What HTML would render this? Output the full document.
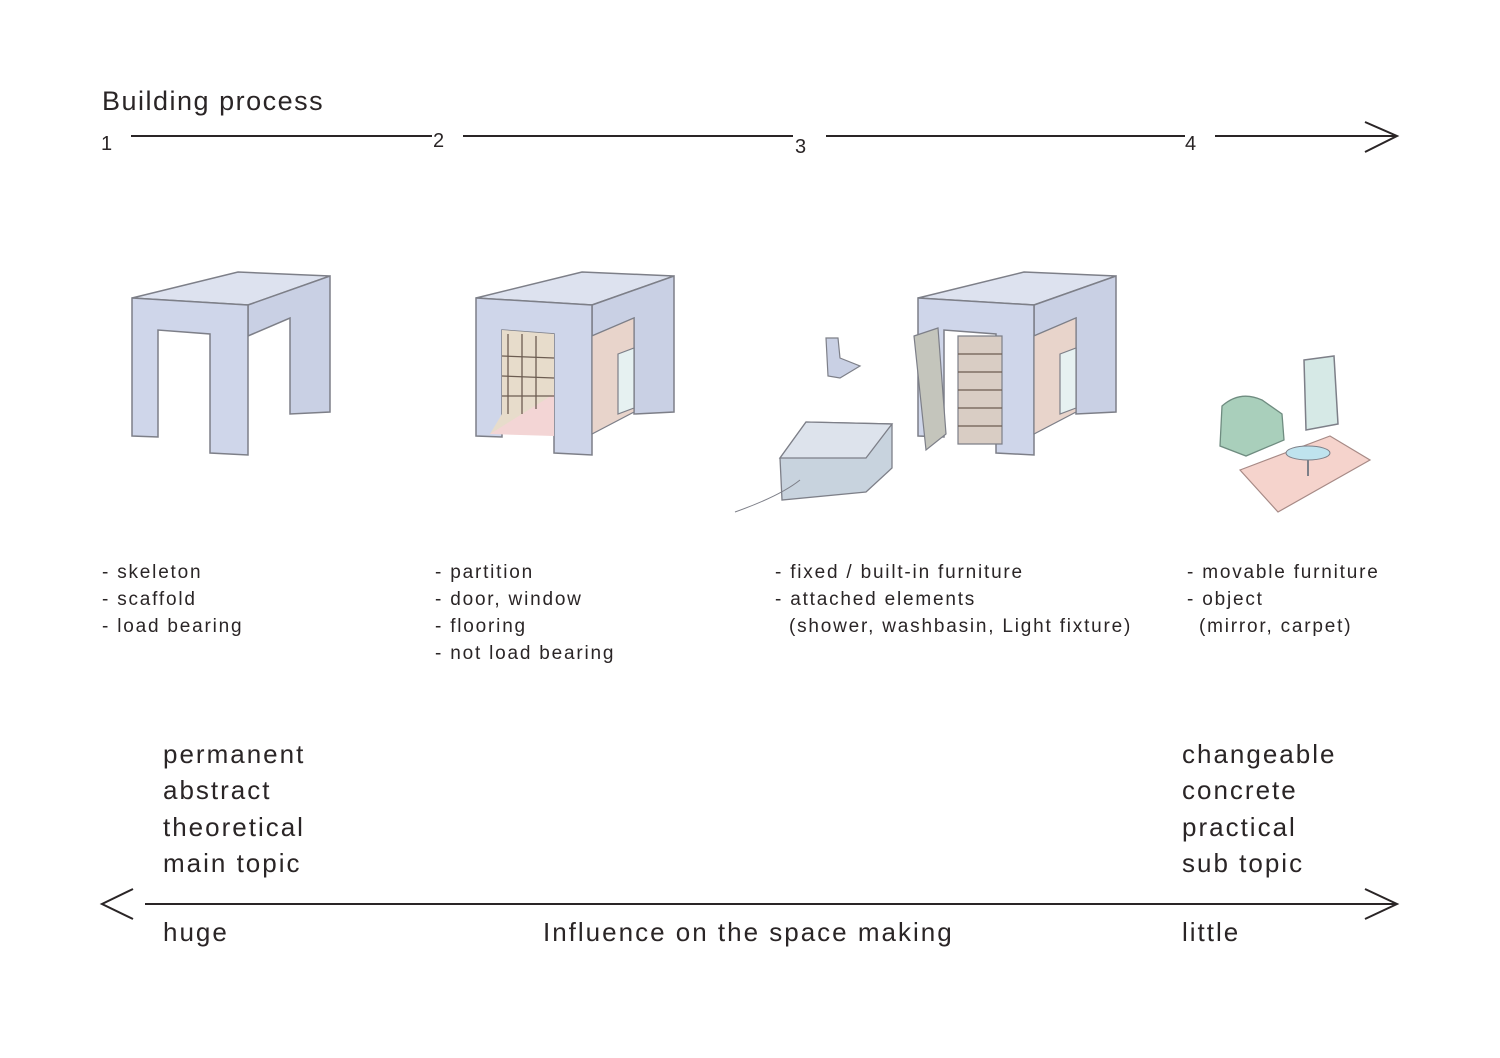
<!DOCTYPE html>
<html><head><meta charset="utf-8"><style>
body{margin:0;background:#fff;}
svg{display:block}
text{font-family:"Liberation Sans","DejaVu Sans",sans-serif;fill:#2a2526}
</style></head><body>
<svg width="1500" height="1058" viewBox="0 0 1500 1058" xmlns="http://www.w3.org/2000/svg">
<defs>
<g id="frame">
  <path d="M0,24 L106,-2 L198,2 L116,31 Z" fill="#dde2ef" stroke="#7d7f88" stroke-width="1.5"/>
  <path d="M116,31 L198,2 L198,138 L158,140 L158,44 L116,62 Z" fill="#c9d0e4" stroke="#7d7f88" stroke-width="1.5"/>
  <path d="M0,24 L116,31 L116,181 L78,179 L78,60 L26,56 L26,163 L0,162 Z" fill="#cfd6ea" stroke="#7d7f88" stroke-width="1.5"/>
</g>
</defs>

<text x="102" y="110" font-size="27" letter-spacing="1.5">Building process</text>
<text x="101" y="150" font-size="20">1</text>
<text x="433" y="147" font-size="20">2</text>
<text x="795" y="153" font-size="20">3</text>
<text x="1185" y="150" font-size="20">4</text>
<g stroke="#2a2526" stroke-width="2" fill="none">
<line x1="131" y1="136" x2="432" y2="136"/>
<line x1="463" y1="136" x2="793" y2="136"/>
<line x1="826" y1="136" x2="1185" y2="136"/>
<line x1="1215" y1="136" x2="1395" y2="136"/>
<path d="M1365,122 L1397,136 L1365,152"/>
<line x1="145" y1="904" x2="1395" y2="904"/>
<path d="M1365,889 L1397,904 L1365,919"/>
<path d="M133,889 L102,904 L133,919"/>
</g>

<g transform="translate(132,274)"><use href="#frame"/></g>

<g transform="translate(476,274)">
  <use href="#frame"/>
  <path d="M26,56 L78,60 L78,160 L14,160 L26,140 Z" fill="#e7dccb"/>
  <path d="M14,160 L78,120 L78,162 Z" fill="#f3d5d5"/>
  <g stroke="#6d5d52" stroke-width="1.3"><line x1="32" y1="60" x2="32" y2="140"/><line x1="46" y1="60" x2="46" y2="140"/><line x1="60" y1="62" x2="60" y2="135"/><line x1="26" y1="82" x2="78" y2="84"/><line x1="26" y1="102" x2="78" y2="104"/><line x1="26" y1="122" x2="78" y2="122"/></g>
  <path d="M116,62 L158,44 L158,138 L116,160 Z" fill="#e8d4cb" stroke="#7d7f88" stroke-width="1.2"/>
  <path d="M142,80 L158,74 L158,134 L142,140 Z" fill="#e6f1f1" stroke="#7d7f88" stroke-width="1.2"/>
</g>

<g transform="translate(918,274)">
  <use href="#frame"/>
  <path d="M116,62 L158,44 L158,138 L116,160 Z" fill="#e8d4cb" stroke="#7d7f88" stroke-width="1.2"/>
  <path d="M142,80 L158,74 L158,134 L142,140 Z" fill="#e6f1f1" stroke="#7d7f88" stroke-width="1.2"/>
  <path d="M40,62 L84,62 L84,170 L40,170 Z" fill="#d9cdc4" stroke="#7d7f88" stroke-width="1.2"/>
  <g stroke="#6d5d52" stroke-width="1.2"><line x1="40" y1="80" x2="84" y2="80"/><line x1="40" y1="98" x2="84" y2="98"/><line x1="40" y1="116" x2="84" y2="116"/><line x1="40" y1="134" x2="84" y2="134"/><line x1="40" y1="152" x2="84" y2="152"/></g>
  <path d="M-4,62 L20,54 L28,160 L8,176 Z" fill="#c4c5bc" stroke="#7d7f88" stroke-width="1.2"/>
</g>
<path d="M826,338 L838,338 L840,358 L860,366 L840,378 L828,376 Z" fill="#c9d0e4" stroke="#7d7f88" stroke-width="1.2"/>
<path d="M780,458 L806,422 L892,424 L892,468 L866,492 L782,500 Z" fill="#c8d3de" stroke="#7d7f88" stroke-width="1.3"/>
<path d="M780,458 L806,422 L892,424 L866,458 Z" fill="#dde3ec" stroke="#7d7f88" stroke-width="1.3"/>
<path d="M735,512 Q780,496 800,480" stroke="#7d7f88" fill="none" stroke-width="1"/>

<path d="M1240,470 L1330,436 L1370,460 L1278,512 Z" fill="#f5d3cc" stroke="#a78a86" stroke-width="1.2"/>
<ellipse cx="1308" cy="453" rx="22" ry="7" fill="#bfe3ee" stroke="#7d7f88"/>
<line x1="1308" y1="460" x2="1308" y2="476" stroke="#7d7f88" stroke-width="2"/>
<path d="M1222,406 Q1240,390 1262,400 L1282,414 L1284,440 L1246,456 L1220,446 Z" fill="#a9cfbb" stroke="#6f8c80" stroke-width="1.3"/>
<path d="M1304,360 L1334,356 L1338,424 L1306,430 Z" fill="#d6e9e6" stroke="#7d7f88" stroke-width="1.5"/>

<g font-size="19" letter-spacing="1.8">
<text x="102" y="578">- skeleton</text>
<text x="102" y="605">- scaffold</text>
<text x="102" y="632">- load bearing</text>
<text x="435" y="578">- partition</text>
<text x="435" y="605">- door, window</text>
<text x="435" y="632">- flooring</text>
<text x="435" y="659">- not load bearing</text>
<text x="775" y="578">- fixed / built-in furniture</text>
<text x="775" y="605">- attached elements</text>
<text x="789" y="632">(shower, washbasin, Light fixture)</text>
<text x="1187" y="578">- movable furniture</text>
<text x="1187" y="605">- object</text>
<text x="1199" y="632">(mirror, carpet)</text>
</g>
<g font-size="26" letter-spacing="2">
<text x="163" y="763">permanent</text>
<text x="163" y="799">abstract</text>
<text x="163" y="836">theoretical</text>
<text x="163" y="872">main topic</text>
<text x="1182" y="763">changeable</text>
<text x="1182" y="799">concrete</text>
<text x="1182" y="836">practical</text>
<text x="1182" y="872">sub topic</text>
<text x="163" y="941">huge</text>
<text x="543" y="941">Influence on the space making</text>
<text x="1182" y="941">little</text>
</g>
</svg>
</body></html>
